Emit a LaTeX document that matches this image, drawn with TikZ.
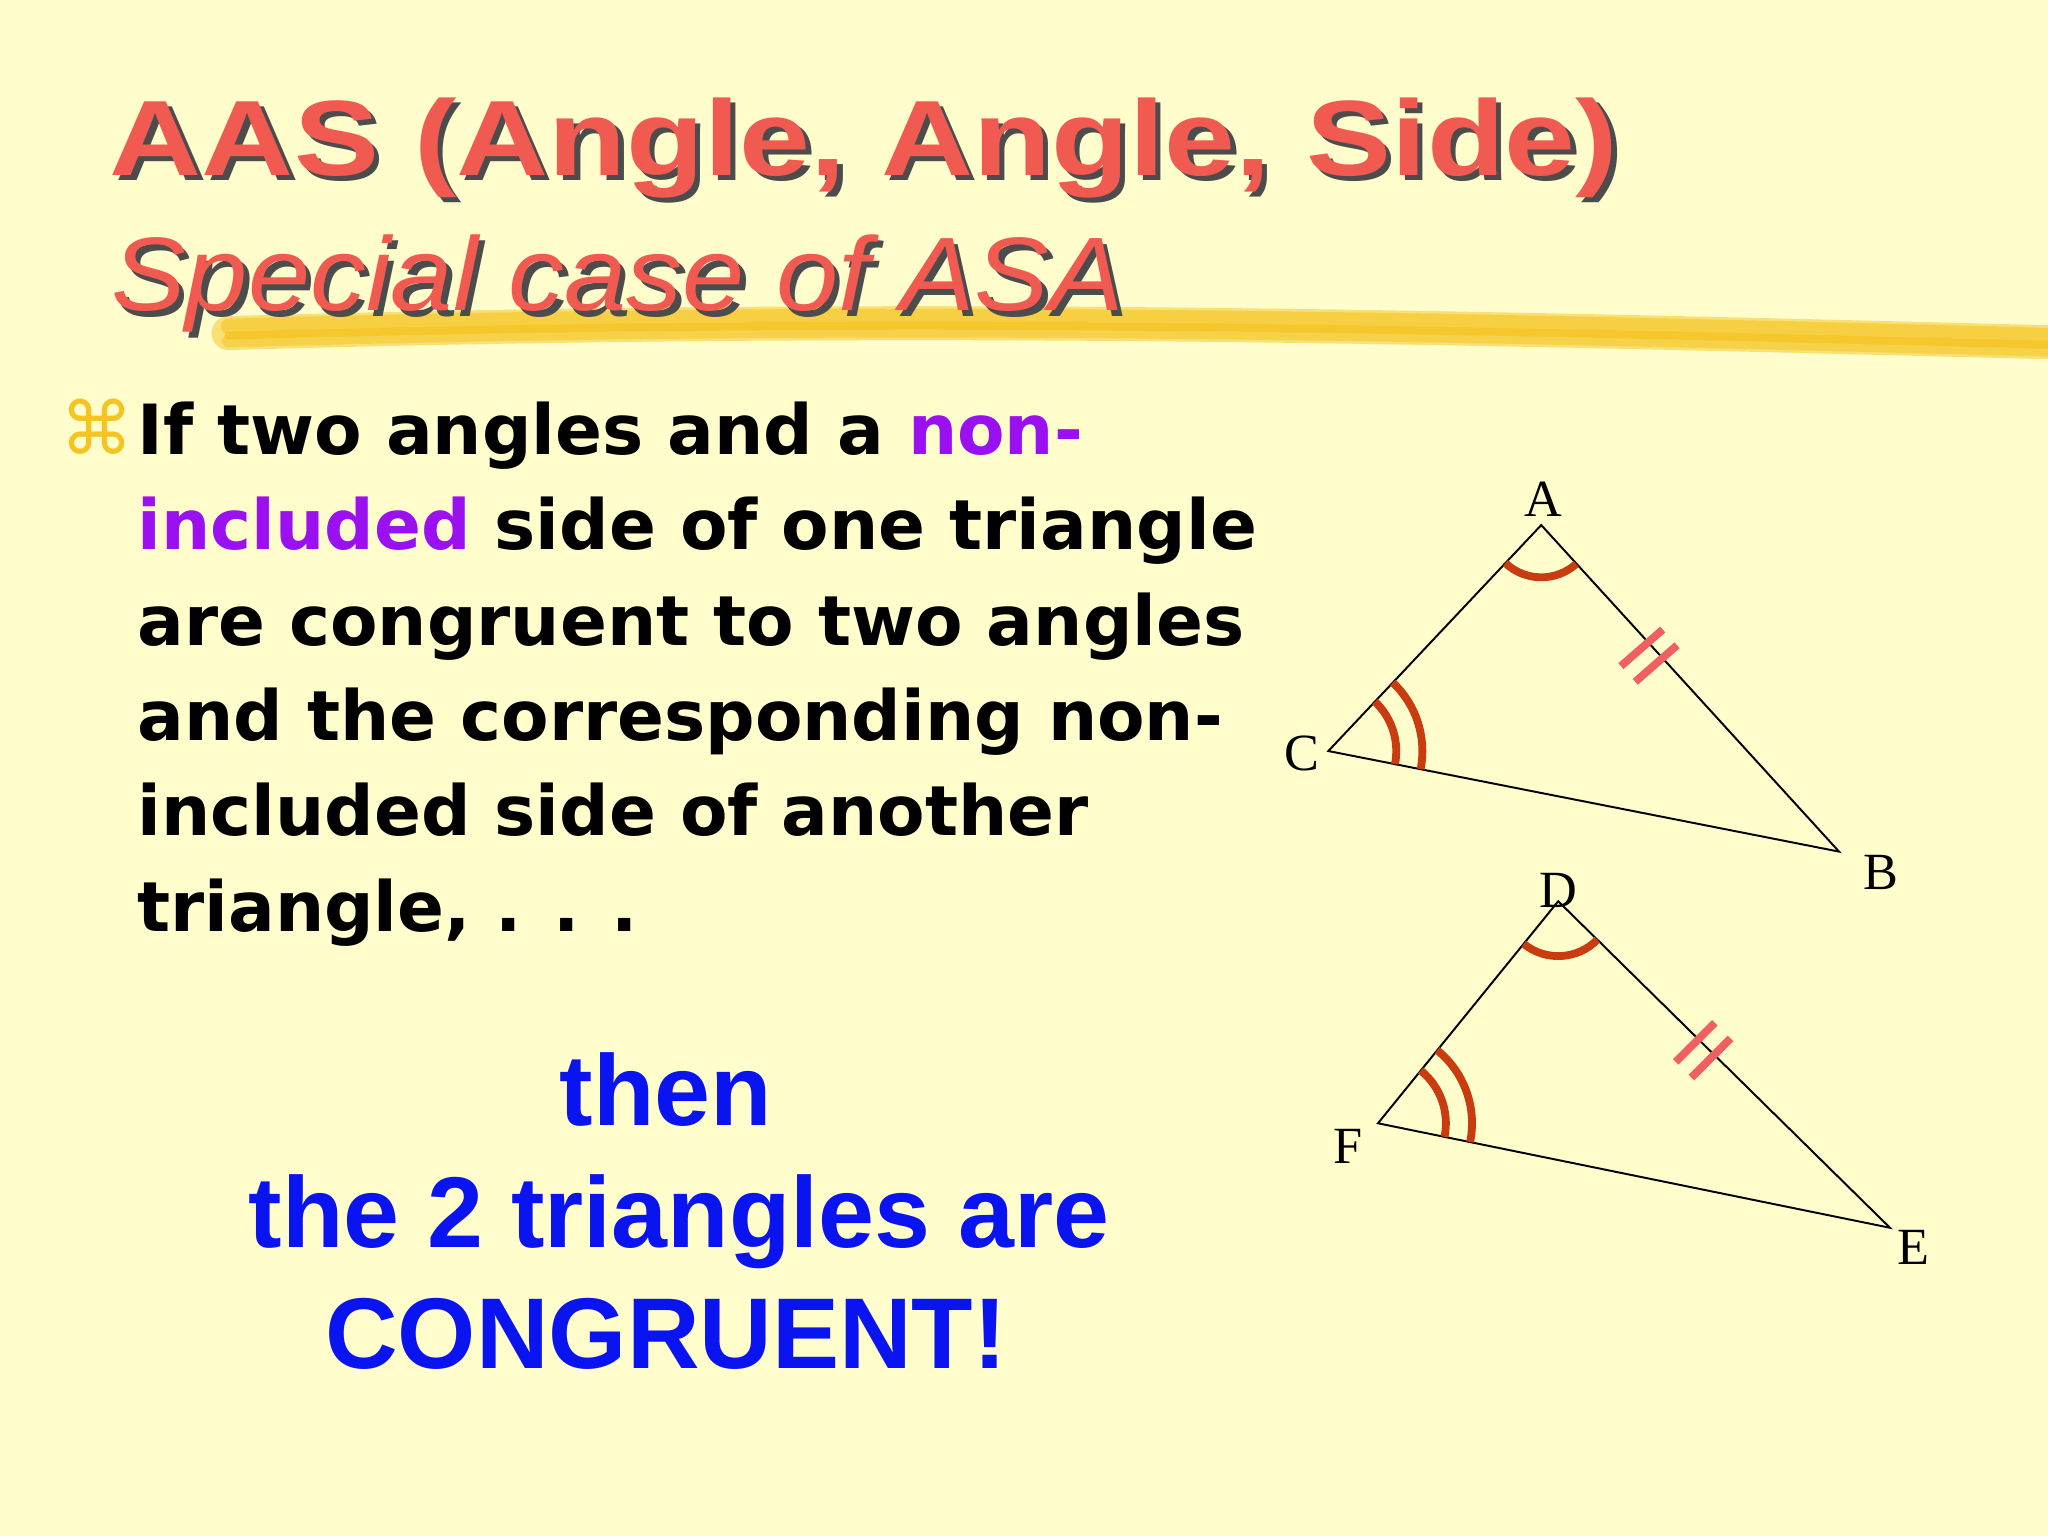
\documentclass[tikz,border=0pt]{standalone}
\usepackage{fontspec}
\usetikzlibrary{calc}
\setmainfont{Liberation Sans}
\newfontfamily\bodyfont{DejaVu Sans}
\newfontfamily\labfont{Liberation Serif}
\definecolor{bg}{HTML}{FFFDCC}
\definecolor{ttl}{HTML}{F05A50}
\definecolor{purp}{HTML}{9B10F0}
\definecolor{blu}{HTML}{0A14F0}
\definecolor{arcc}{HTML}{C83C10}
\definecolor{tick}{HTML}{F06060}
\definecolor{hl}{HTML}{F5C420}
\newcommand{\ttltext}{\scalebox{1.19}[1]{AAS (Angle, Angle, Side)}}
\newcommand{\subtext}{\scalebox{1.07}[1]{Special case of ASA}}
\begin{document}
\begin{tikzpicture}[x=1pt,y=-1pt,
  body/.style={anchor=base west,inner sep=0,font=\bodyfont\bfseries\fontsize{53}{53}\selectfont},
  big/.style={anchor=base,inner sep=0,text=blu,font=\bfseries\fontsize{77}{77}\selectfont},
  lab/.style={inner sep=0,font=\labfont\fontsize{40}{40}\selectfont},
  tri/.style={line width=1.5pt},
  ang/.style={arcc,line width=6pt},
  tk/.style={tick,line width=6pt}]
\fill[bg] (0,0) rectangle (1568,1176);
\useasboundingbox (0,0) rectangle (1568,1176);
% highlighter
\foreach \dy/\op/\w in {0/0.5/26,-5/0.6/12,6/0.5/10,2/0.7/6}
  \draw[hl,opacity=\op,line width=\w pt,line cap=round] (175,255+\dy) .. controls (700,240+\dy) and (1100,250+\dy) .. (1568,262+\dy);
% title (shadow + text)
\node[anchor=base west,inner sep=0,text=black!70,font=\bfseries\fontsize{82}{82}\selectfont] at (88,138) {\ttltext};
\node (t1)[anchor=base west,inner sep=0,text=ttl,font=\bfseries\fontsize{82}{82}\selectfont] at (84,134) {\ttltext};
\node[anchor=base west,inner sep=0,text=black!70,font=\itshape\fontsize{80}{80}\selectfont] at (89,242) {\subtext};
\node (t2)[anchor=base west,inner sep=0,text=ttl,font=\itshape\fontsize{80}{80}\selectfont] at (85,238) {\subtext};
% bullet
\node (bul)[anchor=base west,inner sep=0,text=hl,font=\bodyfont\fontsize{56}{56}\selectfont] at (46,348) {⌘};
\node (l1)[body] at (105,348) {If two angles and a \textcolor{purp}{non-}};
\node (l2)[body] at (105,421) {\textcolor{purp}{included} side of one triangle};
\node (l3)[body] at (105,494) {are congruent to two angles};
\node (l4)[body] at (105,567) {and the corresponding non-};
\node (l5)[body] at (105,640) {included side of another};
\node (l6)[body] at (105,713) {triangle, . . .};
\node (b1)[big] at (510,862) {then};
\node (b2)[big] at (520,955) {the 2 triangles are};
\node (b3)[big] at (510,1048) {CONGRUENT!};
% triangle 1
\coordinate (A) at (1180,402); \coordinate (C) at (1017,575); \coordinate (B) at (1408,652);
\draw[tri] (A) -- (B) -- (C) -- cycle;
\node (lA)[lab] at (1182,382) {A};
\node (lC)[lab] at (997,577) {C};
\node (lB)[lab] at (1440,668) {B};
\draw[ang] ($(A)+(48:40)$) arc[start angle=48,end angle=133.3,radius=40];
\draw[ang] ($(C)+(-46.7:52)$) arc[start angle=-46.7,end angle=11.1,radius=52];
\draw[ang] ($(C)+(-46.7:72)$) arc[start angle=-46.7,end angle=11.1,radius=72];
\coordinate (m1) at (1257,496); \coordinate (m2) at (1268,508);
\draw[tk] ($(m1)+(-16,14)$) -- ($(m1)+(16,-14)$);
\draw[tk] ($(m2)+(-16,14)$) -- ($(m2)+(16,-14)$);
% triangle 2
\coordinate (D) at (1193,690); \coordinate (F) at (1055,860); \coordinate (E) at (1447,940);
\draw[tri] (D) -- (E) -- (F) -- cycle;
\node (lD)[lab] at (1193,682) {D};
\node (lF)[lab] at (1032,878) {F};
\node (lE)[lab] at (1465,955) {E};
\draw[ang] ($(D)+(44.5:42)$) arc[start angle=44.5,end angle=129,radius=42];
\draw[ang] ($(F)+(-51:52)$) arc[start angle=-51,end angle=11.5,radius=52];
\draw[ang] ($(F)+(-51:72)$) arc[start angle=-51,end angle=11.5,radius=72];
\coordinate (m3) at (1298,798); \coordinate (m4) at (1310,810);
\draw[tk] ($(m3)+(-15,15)$) -- ($(m3)+(15,-15)$);
\draw[tk] ($(m4)+(-15,15)$) -- ($(m4)+(15,-15)$);
\end{tikzpicture}
\end{document}
